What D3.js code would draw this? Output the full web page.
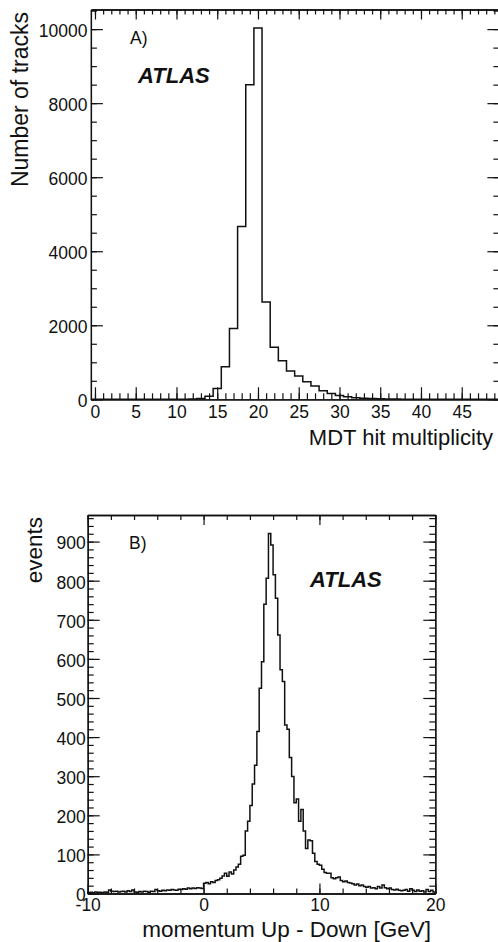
<!DOCTYPE html>
<html><head><meta charset="utf-8">
<script src="https://cdnjs.cloudflare.com/ajax/libs/d3/7.8.5/d3.min.js"></script>
<style>
body{margin:0;background:#fff}
svg{display:block}
text{font-family:"Liberation Sans",Arial,Helvetica,sans-serif;fill:#111}
</style>
</head><body>
<svg id="chart" width="498" height="942"></svg>
<script>
// ---------- Panel A data: MDT hit multiplicity (bins of width 1 centred on integers) ----------
const mdtLow = -0.5, mdtBinWidth = 1;
const mdtCounts = [0,0,0,0,0,0,0,0,0,0, 0,0,5,20,80,290,880,1910,4665,8495,
  10030,2630,1405,1043,765,630,476,360,230,160, 105,70,45,30,20,13,8,5,3,2,
  1,0,0,0,0,0,0,0,0,0];
const mdtXTicks = [0,5,10,15,20,25,30,35,40,45];
const mdtYTicks = [0,2000,4000,6000,8000,10000];

// ---------- Panel B data: momentum Up - Down (bins of width 0.2 GeV from -10 to 20) ----------
const momLow = -10, momBinWidth = 0.2;
const momCounts = [
  2,3,2,4,3,3,2,4,3,9,   6,5,6,4,5,6,4,7,5,9,
  4,3,5,4,6,5,3,6,5,10,  7,6,8,7,9,8,10,9,8,11,
  10,12,11,14,12,14,13,15,14,13,
  26,28,25,30,28,33,35,39,45,52,
  44,55,50,60,68,75,95,98,160,185,
  225,280,328,414,525,593,740,806,921,891,
  815,755,661,572,542,431,420,348,299,232,
  242,185,215,160,115,137,135,103,82,75,
  72,62,54,52,52,40,38,40,42,33,
  30,32,28,27,25,22,24,20,22,18,
  16,18,14,15,12,18,14,22,15,12,
  14,10,9,11,8,7,8,10,6,12,
  8,5,9,6,7,4,10,5,8,4];
const momXTicks = [-10,0,10,20];
const momYTicks = [0,100,200,300,400,500,600,700,800,900];

const svg = d3.select("#chart");

function histPath(g, x, y, low, width, counts){
  const pts = [[low,0]];
  counts.forEach((c,i)=>pts.push([low+i*width, c]));
  const hi = low + counts.length*width;
  pts.push([hi, counts[counts.length-1]]);
  pts.push([hi, 0]);
  const line = d3.line().x(d=>x(d[0])).y(d=>y(d[1])).curve(d3.curveStepAfter);
  g.append("path").attr("d", line(pts)).attr("fill","none")
    .attr("stroke","#111").attr("stroke-width",1.5).attr("stroke-linejoin","miter");
}

function frame(g, x, y, o){
  const [x0,x1] = x.range(), [y0,y1] = y.range();
  const style = sel => { sel.selectAll("path,line").attr("stroke","#111").attr("stroke-width",1.2);
                         sel.selectAll("text").attr("fill","#111"); };
  // minor ticks
  g.append("g").attr("transform",`translate(0,${y0})`)
    .call(d3.axisBottom(x).tickValues(o.xMinor).tickSizeInner(-o.bMinor).tickSizeOuter(0).tickFormat(""))
    .call(style);
  g.append("g").attr("transform",`translate(0,${y1})`)
    .call(d3.axisTop(x).tickValues(o.xMinor).tickSizeInner(-o.tMinor).tickSizeOuter(0).tickFormat(""))
    .call(style);
  g.append("g").attr("transform",`translate(${x0},0)`)
    .call(d3.axisLeft(y).tickValues(o.yMinor).tickSizeInner(-o.lMinor).tickSizeOuter(0).tickFormat(""))
    .call(style);
  g.append("g").attr("transform",`translate(${x1},0)`)
    .call(d3.axisRight(y).tickValues(o.yMinor).tickSizeInner(-o.rMinor).tickSizeOuter(0).tickFormat(""))
    .call(style);
  // major ticks with labels
  const bx = g.append("g").attr("transform",`translate(0,${y0})`)
    .call(d3.axisBottom(x).tickValues(o.xTicks).tickSizeInner(-o.bMajor).tickSizeOuter(0)
      .tickPadding(o.xPad).tickFormat(d=>String(d)))
    .call(style);
  bx.selectAll("text").attr("font-size",o.fs);
  g.append("g").attr("transform",`translate(0,${y1})`)
    .call(d3.axisTop(x).tickValues(o.xTicks).tickSizeInner(-o.tMajor).tickSizeOuter(0).tickFormat(""))
    .call(style);
  const ly = g.append("g").attr("transform",`translate(${x0},0)`)
    .call(d3.axisLeft(y).tickValues(o.yTicks).tickSizeInner(-o.lMajor).tickSizeOuter(0)
      .tickPadding(o.yPad).tickFormat(d=>String(d)))
    .call(style);
  ly.selectAll("text").attr("font-size",o.fs).attr("dy","0.42em");
  g.append("g").attr("transform",`translate(${x1},0)`)
    .call(d3.axisRight(y).tickValues(o.yTicks).tickSizeInner(-o.rMajor).tickSizeOuter(0).tickFormat(""))
    .call(style);
  g.selectAll(".domain").attr("stroke-width",1.3);
}

// ================= Panel A =================
const xA = d3.scaleLinear().domain([mdtLow, mdtLow + mdtCounts.length*mdtBinWidth]).range([90.9, 498.4]);
const yA = d3.scaleLinear().domain([0, 10530]).range([399.3, 9.5]);
const gA = svg.append("g");
histPath(gA, xA, yA, mdtLow, mdtBinWidth, mdtCounts);
frame(gA, xA, yA, {
  xTicks: mdtXTicks, xMinor: d3.range(0,50,1),
  yTicks: mdtYTicks, yMinor: d3.range(0,10531,500),
  bMajor:12, bMinor:6, tMajor:10, tMinor:5, lMajor:12, lMinor:6, rMajor:11, rMinor:5,
  xPad:6, yPad:3.5, fs:17.5
});
gA.append("text").attr("transform","translate(28,12) rotate(-90)").attr("text-anchor","end")
  .attr("font-size",23).text("Number of tracks");
gA.append("text").attr("x",493).attr("y",445).attr("text-anchor","end")
  .attr("font-size",22).text("MDT hit multiplicity");
gA.append("text").attr("x",130).attr("y",43.5).attr("font-size",17.5).text("A)");
gA.append("text").attr("x",138).attr("y",82.5).attr("font-size",22)
  .attr("font-weight","bold").attr("font-style","italic").text("ATLAS");

// ================= Panel B =================
const xB = d3.scaleLinear().domain([momLow, momLow + momCounts.length*momBinWidth]).range([87.7, 435.3]);
const yB = d3.scaleLinear().domain([0, 968]).range([893.5, 515]);
const gB = svg.append("g");
histPath(gB, xB, yB, momLow, momBinWidth, momCounts);
frame(gB, xB, yB, {
  xTicks: momXTicks, xMinor: d3.range(-10,20.01,2),
  yTicks: momYTicks, yMinor: d3.range(0,961,20),
  bMajor:10, bMinor:5, tMajor:10, tMinor:5, lMajor:12, lMinor:6, rMajor:12, rMinor:6,
  xPad:5, yPad:2, fs:17.5
});
gB.append("text").attr("transform","translate(41.5,517) rotate(-90)").attr("text-anchor","end")
  .attr("font-size",22.5).text("events");
gB.append("text").attr("x",431).attr("y",937).attr("text-anchor","end")
  .attr("font-size",22.5).text("momentum Up - Down [GeV]");
gB.append("text").attr("x",129).attr("y",549).attr("font-size",17.5).text("B)");
gB.append("text").attr("x",310).attr("y",586.5).attr("font-size",22)
  .attr("font-weight","bold").attr("font-style","italic").text("ATLAS");
</script>
</body></html>
